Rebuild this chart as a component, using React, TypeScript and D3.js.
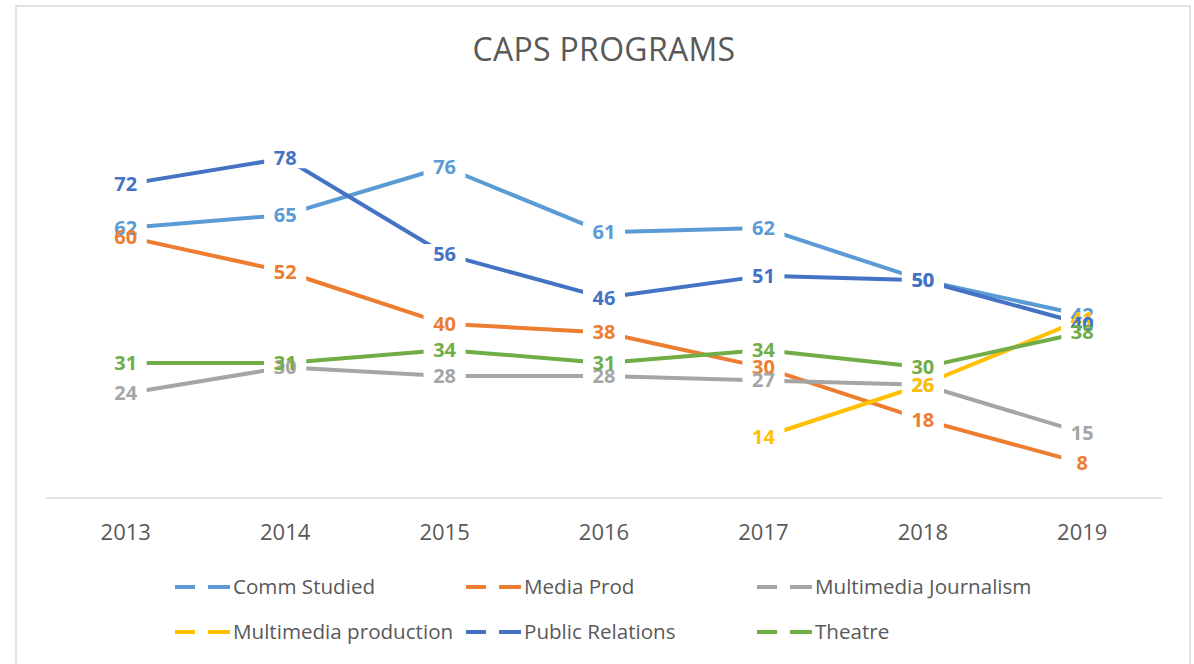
import React from "react";
import * as d3 from "d3";

const years = ["2013", "2014", "2015", "2016", "2017", "2018", "2019"];
const seriesNames = [
  "Comm Studied",
  "Media Prod",
  "Multimedia Journalism",
  "Multimedia production",
  "Public Relations",
  "Theatre",
];
const commStudied: (number | null)[] = [62, 65, 76, 61, 62, 50, 42];
const mediaProd: (number | null)[] = [60, 52, 40, 38, 30, 18, 8];
const multimediaJournalism: (number | null)[] = [24, 30, 28, 28, 27, 26, 15];
const multimediaProduction: (number | null)[] = [null, null, null, null, 14, 26, 41];
const publicRelations: (number | null)[] = [72, 78, 56, 46, 51, 50, 40];
const theatre: (number | null)[] = [31, 31, 34, 31, 34, 30, 38];
const seriesColors = ["#5B9BD5", "#ED7D31", "#A5A5A5", "#FFC000", "#4472C4", "#70AD47"];
const title = "CAPS PROGRAMS";

const seriesValues = [
  commStudied,
  mediaProd,
  multimediaJournalism,
  multimediaProduction,
  publicRelations,
  theatre,
];

export default function App() {
  const W = 1194;
  const H = 664;
  const x = d3.scaleBand<string>().domain(years).range([46, 1162]).padding(0);
  const cx = (yr: string) => (x(yr) as number) + x.bandwidth() / 2;
  const y = d3.scaleLinear().domain([0, 90]).range([498, 106]);

  const line = d3
    .line<number | null>()
    .defined((d) => d !== null)
    .x((_, i) => cx(years[i]))
    .y((d) => y(d as number));

  const font = "'Open Sans', 'Noto Sans', sans-serif";
  const textColor = "#595959";

  const legendCols = [175, 466, 757];
  const legendRows = [587, 632];

  return (
    <svg
      width={W}
      height={H}
      style={{ position: "absolute", left: 0, top: 0, background: "#fff" }}
      fontFamily={font}
    >
      <rect x={0} y={0} width={W} height={H} fill="#fff" />
      <rect x={16} y={6} width={1174} height={700} fill="#fff" stroke="#D9D9D9" strokeWidth={1.5} />
      <text x={604} y={61} textAnchor="middle" fontSize={32} fill={textColor} letterSpacing={0.3}>
        {title}
      </text>
      <line x1={46} x2={1162} y1={y(0)} y2={y(0)} stroke="#D9D9D9" strokeWidth={1.5} />
      {years.map((yr) => (
        <text key={yr} x={cx(yr)} y={540} textAnchor="middle" fontSize={22} fill={textColor}>
          {yr}
        </text>
      ))}
      {seriesValues.map((vals, si) => (
        <path
          key={"l" + si}
          d={line(vals) || ""}
          fill="none"
          stroke={seriesColors[si]}
          strokeWidth={4}
          strokeLinejoin="round"
        />
      ))}
      {seriesValues.map((vals, si) =>
        vals.map((v, i) =>
          v === null ? null : (
            <rect
              key={"bg" + si + "-" + i}
              x={cx(years[i]) - 21}
              y={y(v) - 10}
              width={42}
              height={20}
              fill="#fff"
            />
          )
        )
      )}
      {seriesValues.map((vals, si) =>
        vals.map((v, i) =>
          v === null ? null : (
            <text
              key={"lab" + si + "-" + i}
              x={cx(years[i])}
              y={y(v) + 7}
              textAnchor="middle"
              fontSize={20}
              fontWeight="bold"
              fill={seriesColors[si]}
            >
              {v}
            </text>
          )
        )
      )}
      {seriesNames.map((name, si) => {
        const lx = legendCols[si % 3];
        const ly = legendRows[Math.floor(si / 3)];
        return (
          <g key={"leg" + si}>
            <line x1={lx} x2={lx + 20} y1={ly} y2={ly} stroke={seriesColors[si]} strokeWidth={4} />
            <line x1={lx + 33} x2={lx + 55} y1={ly} y2={ly} stroke={seriesColors[si]} strokeWidth={4} />
            <text x={lx + 58} y={ly + 7} fontSize={20.6} fill={textColor}>
              {name}
            </text>
          </g>
        );
      })}
    </svg>
  );
}
